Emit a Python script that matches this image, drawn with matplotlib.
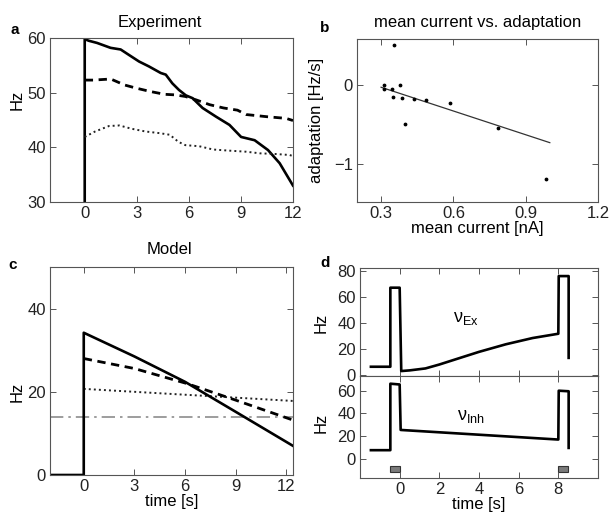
import matplotlib
matplotlib.use("Agg")
import matplotlib.pyplot as plt
from matplotlib.patches import Rectangle

plt.rcParams['font.family'] = ['Liberation Sans', 'DejaVu Sans']
plt.rcParams['mathtext.fontset'] = 'custom'
plt.rcParams['mathtext.rm'] = 'Liberation Sans'
plt.rcParams['mathtext.it'] = 'Liberation Sans:italic'

# ---------------- data ----------------
# panel a: experiment
exp_solid_t = [0, 0, 0.23, 0.71, 1.49, 2.07, 2.55, 3.13, 3.7, 4.38, 4.67, 5.05, 5.43, 5.83,
               6.21, 6.79, 7.57, 8.34, 9.01, 9.79, 10.56, 11.23, 12.0]
exp_solid_v = [25, 59.8, 59.5, 59.1, 58.2, 57.9, 56.9, 55.7, 54.8, 53.6, 53.3, 51.7, 50.5, 49.5,
               49.0, 47.2, 45.6, 44.1, 41.9, 41.3, 39.5, 37.1, 33.0]
exp_dash_t = [0, 0.5, 1.5, 2.3, 3.0, 3.8, 4.6, 5.2, 5.8, 6.4, 7.2, 8.0, 8.8, 9.3, 10.5, 11.6, 12]
exp_dash_v = [52.3, 52.3, 52.5, 51.4, 50.8, 50.2, 49.7, 49.6, 49.3, 48.7, 47.8, 47.2, 46.8, 46.0,
              45.6, 45.3, 44.9]
exp_dot_t = [0, 0.6, 1.4, 2.0, 2.7, 3.5, 4.3, 4.9, 5.4, 5.8, 6.6, 7.4, 8.3, 9.3, 10.1, 10.9, 11.8, 12]
exp_dot_v = [41.9, 42.9, 43.9, 44.0, 43.4, 42.9, 42.6, 42.3, 41.0, 40.4, 40.2, 39.6, 39.4, 39.2,
             38.9, 38.8, 38.6, 38.4]

# panel b: mean current vs adaptation
cur_x = [0.353, 0.314, 0.314, 0.346, 0.38, 0.349, 0.386, 0.436, 0.485, 0.585, 0.40, 0.786, 0.986]
adapt_y = [0.50, 0.0, -0.055, -0.055, 0.0, -0.15, -0.16, -0.18, -0.19, -0.23, -0.50, -0.55, -1.19]
fit_x = [0.3, 1.0]
fit_y = [-0.03, -0.73]

# panel c: model
mod_solid_t = [-2, 0, 0, 3, 6, 9, 12.4]
mod_solid_v = [0, 0, 34.2, 28.5, 22.4, 15.2, 7.0]
mod_dash_t = [0, 3, 6.1, 9, 12.4]
mod_dash_v = [28.0, 25.6, 22.0, 18.0, 13.2]
mod_dot_t = [0, 12.4]
mod_dot_v = [20.7, 17.8]
mod_dd_t = [-2, 12.4]
mod_dd_v = [13.9, 13.9]

# panel d: input rates
ex_t = [-1.45, -0.47, -0.47, 0.0, 0.08, 0.5, 1.3, 2.0, 2.7, 4.0, 5.35, 6.7, 8.0, 8.02, 8.52, 8.52]
ex_v = [6.3, 6.3, 66.9, 66.9, 3.0, 3.5, 5.0, 8.0, 11.4, 17.7, 23.5, 28.3, 31.6, 75.8, 75.8, 13.1]
inh_t = [-1.45, -0.47, -0.47, 0.0, 0.05, 8.0, 8.02, 8.52, 8.52]
inh_v = [7.4, 7.4, 66.2, 65.5, 25.3, 16.8, 60.0, 59.5, 9.4]
stim_start = [-0.5, 8.0]
stim_len = 0.5

# --------------- figure ---------------
fig = plt.figure(figsize=(6.11, 5.21), dpi=100)
W, H = 611.0, 521.0


def add_ax(l, r, t, b):
    return fig.add_axes([l / W, 1 - b / H, (r - l) / W, (b - t) / H])


SP = '#555555'
FS = 12


def style(ax):
    for s in ax.spines.values():
        s.set_color(SP)
        s.set_linewidth(0.8)
    ax.tick_params(direction='in', top=True, right=True, length=4, width=0.7,
                   color=SP, labelsize=FS, labelcolor='#222222', pad=3)


axa = add_ax(50, 293, 38, 202)
axb = add_ax(357, 598, 39, 202)
axc = add_ax(50, 293, 267, 475)
axd1 = add_ax(360, 598, 268, 376)
axd2 = add_ax(360, 598, 376, 478)
for ax in (axa, axb, axc, axd1, axd2):
    style(ax)

# panel a
axa.plot(exp_solid_t, exp_solid_v, color='black', lw=1.9)
axa.plot(exp_dash_t, exp_dash_v, color='black', lw=2.0, linestyle=(0, (3, 2)))
axa.plot(exp_dot_t, exp_dot_v, color='#222222', lw=1.4, linestyle=(0, (1, 1.6)))
axa.set_xlim(-2, 12)
axa.set_ylim(30, 60)
axa.set_xticks([0, 3, 6, 9, 12])
axa.set_yticks([30, 40, 50, 60])
axa.set_ylabel('Hz', fontsize=FS)
axa.yaxis.set_label_coords(-0.105, 0.62)
axa.text(0.45, 1.0 + 15 / 164, 'Experiment', transform=axa.transAxes, ha='center',
         va='center', fontsize=FS)

# panel b
axb.plot(fit_x, fit_y, color='#333333', lw=0.9)
axb.scatter(cur_x, adapt_y, s=3, color='black', zorder=3)
axb.set_xlim(0.2, 1.2)
axb.set_ylim(-1.48, 0.58)
axb.set_xticks([0.3, 0.6, 0.9, 1.2])
axb.set_xticklabels(['0.3', '0.6', '0.9', '1.2'])
axb.set_yticks([-1, 0])
axb.set_yticklabels(['\u22121', '0'])
axb.set_xlabel('mean current [nA]', fontsize=FS, labelpad=0)
axb.set_ylabel('adaptation [Hz/s]', fontsize=FS)
axb.yaxis.set_label_coords(-0.135, 0.5)
axb.text(0.5, 1.0 + 17 / 163, 'mean current vs. adaptation', transform=axb.transAxes,
         ha='center', va='center', fontsize=FS)

# panel c
axc.plot(mod_dd_t, mod_dd_v, color='#8c8c8c', lw=1.2, linestyle=(0, (8, 3, 1.5, 3)))
axc.plot(mod_dot_t, mod_dot_v, color='#222222', lw=1.4, linestyle=(0, (1, 1.6)))
axc.plot(mod_dash_t, mod_dash_v, color='black', lw=2.0, linestyle=(0, (3, 2)))
axc.plot(mod_solid_t, mod_solid_v, color='black', lw=1.9)
axc.set_xlim(-2, 12.4)
axc.set_ylim(0, 50)
axc.set_xticks([0, 3, 6, 9, 12])
axc.set_yticks([0, 20, 40])
axc.set_ylabel('Hz', fontsize=FS)
axc.yaxis.set_label_coords(-0.105, 0.40)
axc.set_xlabel('time [s]', fontsize=FS, labelpad=0)
axc.text(0.49, 1.0 + 17 / 208, 'Model', transform=axc.transAxes, ha='center',
         va='center', fontsize=FS)

# panel d
axd1.plot(ex_t, ex_v, color='black', lw=1.9)
axd1.set_xlim(-2, 10)
axd1.set_ylim(-0.8, 82)
axd1.set_xticks([0, 2, 4, 6, 8])
axd1.set_xticklabels([])
axd1.set_yticks([0, 20, 40, 60, 80])
axd1.set_ylabel('Hz', fontsize=FS)
axd1.yaxis.set_label_coords(-0.13, 0.49)
axd1.text(3.33, 43, '$\\mathrm{ν}_{\\mathrm{Ex}}$', fontsize=13, ha='center', va='center')

axd2.plot(inh_t, inh_v, color='black', lw=1.9)
for s0 in stim_start:
    axd2.add_patch(Rectangle((s0, -11.5), stim_len, 4.7, facecolor='#7a7a7a',
                             edgecolor='#333333', lw=0.8))
axd2.set_xlim(-2, 10)
axd2.set_ylim(-17.2, 73)
axd2.set_xticks([0, 2, 4, 6, 8])
axd2.set_yticks([0, 20, 40, 60])
axd2.set_ylabel('Hz', fontsize=FS)
axd2.yaxis.set_label_coords(-0.13, 0.54)
axd2.set_xlabel('time [s]', fontsize=FS, labelpad=0)
axd2.text(3.58, 37, '$\\mathrm{ν}_{\\mathrm{Inh}}$', fontsize=13, ha='center', va='center')

# panel letters
fig.text(15 / W, 1 - 30 / H, 'a', fontsize=11, fontweight='bold', ha='center', va='center')
fig.text(325 / W, 1 - 28 / H, 'b', fontsize=11, fontweight='bold', ha='center', va='center')
fig.text(13 / W, 1 - 265 / H, 'c', fontsize=11, fontweight='bold', ha='center', va='center')
fig.text(325 / W, 1 - 263 / H, 'd', fontsize=11, fontweight='bold', ha='center', va='center')

fig.savefig('out.png', dpi=100, facecolor='white')
